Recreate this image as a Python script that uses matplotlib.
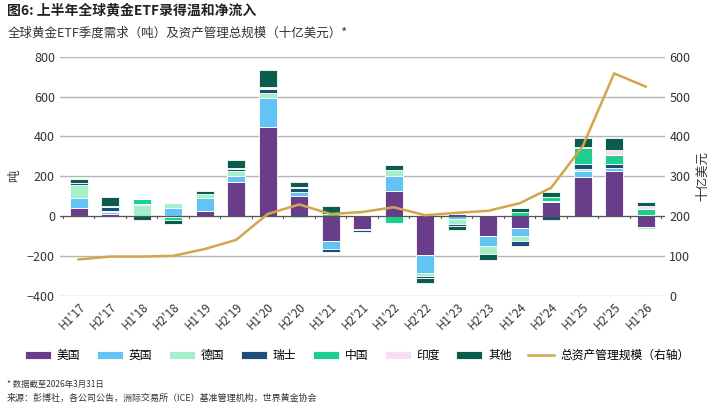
import matplotlib
matplotlib.use("Agg")
import matplotlib.pyplot as plt
import numpy as np

plt.rcParams['font.family'] = ['Noto Sans CJK SC', 'DejaVu Sans']

cats = ["H1'17","H2'17","H1'18","H2'18","H1'19","H2'19","H1'20","H2'20","H1'21","H2'21",
        "H1'22","H2'22","H1'23","H2'23","H1'24","H2'24","H1'25","H2'25","H1'26"]
us     = [42, 12, 0, 0, 27, 172, 448, 98, -127, -64, 124, -198, 12, -100, -60, 68, 196, 228, -55]
uk     = [46, 10, 0, 39, 64, 30, 144, 25, -40, 0, 76, -90, -15, -50, -40, 0, 28, 12, 0]
de     = [69, 5, 54, 24, 17, 25, 25, -8, 0, 0, 29, -15, -25, -40, -25, 5, 10, 0, -10]
ch     = [10, 20, 5, -5, 0, 10, 20, 20, -12, -5, 0, -8, -10, 0, -25, -20, 25, 20, 5]
cn     = [0, 5, 25, -15, 0, 5, 5, 5, 10, 5, -37, 0, 5, 0, 20, 20, 85, 48, 30]
ind    = [0, 0, 0, 0, 0, 0, 5, 0, 0, 0, 0, 0, 3, 5, 0, 0, 3, 22, 15]
other  = [18, 44, -22, -20, 20, 40, 85, 25, 40, -10, 25, -25, -20, -30, 20, 27, 45, 62, 20]
aum    = [91, 98, 98, 100, 117, 140, 205, 229, 205, 210, 222, 202, 208, 213, 232, 271, 375, 558, 525]

series = [("美国", us, "#6a3d8a"), ("英国", uk, "#62c4f5"), ("德国", de, "#a6efcb"),
          ("瑞士", ch, "#1c4e79"), ("中国", cn, "#1dce8e"), ("印度", ind, "#f9dcf5"),
          ("其他", other, "#0a5c4c")]

fig = plt.figure(figsize=(7.2, 4.05), dpi=100)
ax = fig.add_axes([0.083, 0.27, 0.84, 0.59])
x = np.arange(len(cats))
pos = np.zeros(len(cats)); neg = np.zeros(len(cats))
for name, vals, col in series:
    v = np.array(vals, float)
    b = np.where(v >= 0, pos, neg)
    ax.bar(x, v, 0.58, bottom=b, color=col, edgecolor='white', linewidth=0.6, label=name, zorder=3)
    pos += np.where(v >= 0, v, 0); neg += np.where(v < 0, v, 0)
ax.set_ylim(-400, 800)
ax.set_yticks(range(-400, 801, 200))
ax.set_xlim(-0.6, len(cats) - 0.4)
ax.set_xticks(x)
ax.set_xticklabels(cats, rotation=45, ha='right', rotation_mode='anchor', fontsize=8.5, color='#333')
ax.tick_params(axis='y', length=0, labelsize=9, colors='#333')
ax.tick_params(axis='x', length=0)
ax.grid(axis='y', color='#b5b5b5', linewidth=1, zorder=0)
for s in ax.spines.values(): s.set_visible(False)
ax.axhline(0, color='#555', linewidth=0.8, zorder=4)
for xi in np.arange(-0.5, len(cats), 1):
    ax.plot([xi, xi], [0, -12], color='#555', lw=0.8, zorder=4, clip_on=False)
ax.set_ylabel("吨", fontsize=9, color='#333')

ax2 = ax.twinx()
ax2.plot(x, aum, color='#d4a54a', lw=1.8, zorder=5, label="总资产管理规模（右轴）")
ax2.set_ylim(0, 600)
ax2.set_yticks(range(0, 601, 100))
ax2.tick_params(axis='y', length=0, labelsize=9, colors='#333')
for s in ax2.spines.values(): s.set_visible(False)
ax2.set_ylabel("十亿美元", fontsize=9, color='#333')

h1, l1 = ax.get_legend_handles_labels(); h2, l2 = ax2.get_legend_handles_labels()
fig.legend(h1 + h2, l1 + l2, loc='lower left', bbox_to_anchor=(0.02, 0.08), ncol=8, frameon=False,
           fontsize=8.5, handlelength=2.2, columnspacing=1.4, handletextpad=0.5)

fig.text(0.01, 0.965, "图6: 上半年全球黄金ETF录得温和净流入", fontsize=10, fontweight='bold', color='#222')
fig.text(0.01, 0.91, "全球黄金ETF季度需求（吨）及资产管理总规模（十亿美元）*", fontsize=9, color='#333')
fig.text(0.01, 0.045, "* 数据截至2026年3月31日", fontsize=6, color='#333')
fig.text(0.01, 0.01, "来源：彭博社，各公司公告，洲际交易所（ICE）基准管理机构，世界黄金协会", fontsize=6.5, color='#333')
fig.savefig("out.png", dpi=100)
